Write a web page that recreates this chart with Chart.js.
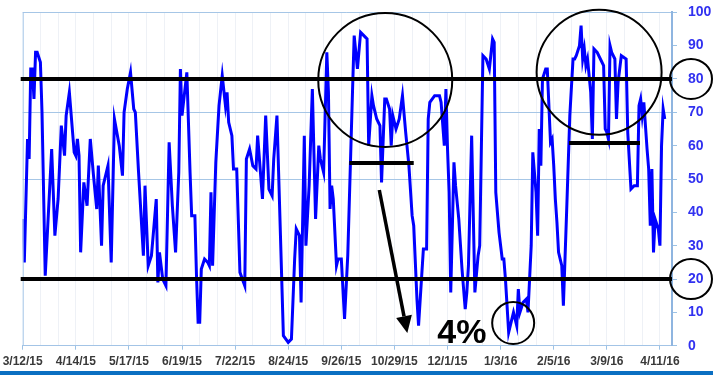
<!DOCTYPE html>
<html><head><meta charset="utf-8">
<script src="https://cdn.jsdelivr.net/npm/chart.js@4.4.1/dist/chart.umd.min.js"></script>
<style>
html,body{margin:0;padding:0;background:#fff;}
#wrap{position:relative;width:713px;height:375px;overflow:hidden;}
#bar{position:absolute;left:0;bottom:0;width:713px;height:4px;background:#0a6fc2;}
</style></head><body>
<div id="wrap"><canvas id="c" width="713" height="375"></canvas><div id="bar"></div></div>
<script>
// Days since 3/12/15
const dayOffsets = [0,1,3,4,5,6,7,8,9,11,12,14,18,20,22,24,26,27,29,32,33,34,35,36,38,40,42,44,46,47,49,50,53,55,57,60,62,63,65,67,69,70,72,75,76,78,80,83,84,85,87,89,91,93,95,97,98,99,102,104,105,107,108,109,110,111,113,115,116,117,118,120,122,124,126,127,128,130,131,133,135,138,139,141,143,145,146,149,151,153,155,156,158,162,165,167,169,170,172,173,175,176,178,180,182,184,185,187,189,190,191,192,193,195,196,198,200,202,205,206,208,210,212,214,215,217,218,220,222,223,225,226,228,229,230,232,234,236,238,240,242,243,245,246,249,251,252,253,256,257,259,260,262,263,264,265,266,268,269,271,273,275,276,277,279,281,283,284,286,288,290,292,293,294,296,298,299,300,302,305,307,308,309,311,313,314,316,317,319,320,321,322,323,325,326,328,329,330,331,332,333,335,336,338,340,342,343,344,346,347,348,349,350,351,353,354,355,357,359,361,362,363,364,365,366,368,369,370,372,375,376,378,380,382,383,384,385,386,388,389,390,391,392,393,395,396,397,398,399];
const oscillator = [38,25,62,56,83,83,74,88,88,85,70,21,59,33,44,66,57,69,76,58,57,62,57,28,49,42,62,51,41,54,30,48,54,25,68,60,51,70,77,82,71,70,52,27,48,24,27,44,19,28,20,18,61,42,28,52,83,69,82,52,39,39,21,7,7,23,26,25,24,46,24,55,72,81,72,76,67,63,53,53,22,18,56,59,54,53,63,44,69,47,45,56,69,3,1,2,26,35,33,13,63,30,48,77,38,60,56,52,88,76,41,48,44,24,26,26,8,27,77,93,83,94,93,92,60,75,72,68,66,49,74,74,71,60,69,65,68,75,64,54,39,36,14,6,29,29,68,73,75,75,75,73,60,77,59,46,16,55,48,38,23,11,16,24,63,16,27,30,87,86,83,92,91,46,34,26,26,20,4,10,6,17,10,13,14,10,30,58,46,33,65,54,80,83,83,61,62,54,44,37,28,24,12,40,69,86,86,87,90,96,86,89,84,86,76,62,89,88,86,84,65,64,62,90,88,86,68,79,87,86,64,47,48,48,72,74,69,73,59,53,36,53,28,38,35,30,60,71,68];
const tickLabels = ['3/12/15','4/14/15','5/17/15','6/19/15','7/22/15','8/24/15','9/26/15','10/29/15','12/1/15','1/3/16','2/5/16','3/9/16','4/11/16'];
const tickStepDays = 33;
const axisMaxDay = 403.5;
const gridValues = [50,70,100];
const levelLines = [80,20];
const shortLines = [{from:203,to:243,value:54.8},{from:339.5,to:383.6,value:60.8}];
const bigCircles = [{day:225.3,value:79.7,r:67},{day:358.2,value:82,r:62.5},{day:304.8,value:6.8,r:21}];
const arrowFrom = {day:221.6,value:46.7};
const arrowTo = {day:239,value:3.8};
const calloutText = {text:'4%',day:257.6,value:0.7};

const annot = {
  id:'annot',
  afterDatasetsDraw(chart){
    const ctx=chart.ctx, xs=chart.scales.x, ys=chart.scales.y, ca=chart.chartArea;
    ctx.save();
    ctx.strokeStyle='#a3c4e6'; ctx.lineWidth=1;
    ctx.beginPath(); ctx.moveTo(ca.left+0.5,ca.top); ctx.lineTo(ca.left+0.5,ca.bottom); ctx.stroke();
    ctx.strokeStyle='#000';
    ctx.lineWidth=4;
    levelLines.forEach(v=>{const y=ys.getPixelForValue(v);ctx.beginPath();ctx.moveTo(ca.left-2,y);ctx.lineTo(ca.right,y);ctx.stroke();});
    shortLines.forEach(s=>{const y=ys.getPixelForValue(s.value);ctx.beginPath();ctx.moveTo(xs.getPixelForValue(s.from),y);ctx.lineTo(xs.getPixelForValue(s.to),y);ctx.stroke();});
    ctx.lineWidth=2;
    bigCircles.forEach(c=>{ctx.beginPath();ctx.arc(xs.getPixelForValue(c.day),ys.getPixelForValue(c.value),c.r,0,Math.PI*2);ctx.stroke();});
    levelLines.forEach(v=>{ctx.beginPath();ctx.ellipse(ca.right+19,ys.getPixelForValue(v),21,20,0,0,Math.PI*2);ctx.stroke();});
    const x1=xs.getPixelForValue(arrowFrom.day), y1=ys.getPixelForValue(arrowFrom.value);
    const x2=xs.getPixelForValue(arrowTo.day), y2=ys.getPixelForValue(arrowTo.value);
    const ang=Math.atan2(y2-y1,x2-x1), hl=17, hw=8;
    const bx=x2-hl*Math.cos(ang), by=y2-hl*Math.sin(ang);
    ctx.lineWidth=3.5;
    ctx.beginPath();ctx.moveTo(x1,y1);ctx.lineTo(bx,by);ctx.stroke();
    ctx.fillStyle='#000';
    ctx.beginPath();ctx.moveTo(x2,y2);
    ctx.lineTo(bx+hw*Math.sin(ang),by-hw*Math.cos(ang));
    ctx.lineTo(bx-hw*Math.sin(ang),by+hw*Math.cos(ang));
    ctx.closePath();ctx.fill();
    ctx.font='bold 34px "Liberation Sans", Arial, sans-serif';
    ctx.textAlign='left';ctx.textBaseline='alphabetic';
    ctx.fillText(calloutText.text,xs.getPixelForValue(calloutText.day),ys.getPixelForValue(calloutText.value));
    ctx.restore();
  }
};

new Chart(document.getElementById('c'),{
  type:'line',
  data:{datasets:[{data:dayOffsets.map((d,i)=>({x:d,y:oscillator[i]})),borderColor:'#0000ff',borderWidth:3,pointRadius:0,tension:0,fill:false}]},
  options:{
    responsive:false,animation:false,devicePixelRatio:1,
    layout:{padding:{left:22.7,top:12.3,right:0,bottom:0}},
    plugins:{legend:{display:false},tooltip:{enabled:false}},
    scales:{
      x:{type:'linear',position:'bottom',min:0,max:axisMaxDay,
        afterFit(s){s.height=29.3;s.paddingLeft=0;s.paddingRight=0;},
        ticks:{stepSize:tickStepDays/3,includeBounds:false,autoSkip:false,maxRotation:0,padding:5,color:'#3a3a3a',
          font:{family:'"Liberation Sans", Arial, sans-serif',size:12,weight:'bold'},
          callback:(v)=>{ if(v%tickStepDays!==0) return ''; return tickLabels[v/tickStepDays]||''; }},
        grid:{drawOnChartArea:true,tickLength:4,
          color:(c)=>{const v=c.tick&&c.tick.value; if(v===0) return 'rgba(0,0,0,0)'; return '#eef1f6';},
          tickColor:(c)=>{const v=c.tick&&c.tick.value; return (v%tickStepDays===0)?'#9cc2e5':'rgba(0,0,0,0)';}},
        border:{display:true,color:'#a3c4e6',width:1}},
      y:{type:'linear',position:'right',min:0,max:100,
        afterFit(s){s.width=41;s.paddingTop=0;s.paddingBottom=0;},
        ticks:{stepSize:10,padding:11,color:'#3131f0',font:{family:'"Liberation Sans", Arial, sans-serif',size:14,weight:'bold'}},
        grid:{tickLength:5,color:(c)=>gridValues.includes(c.tick&&c.tick.value)?'#a6c6e6':'rgba(0,0,0,0)',tickColor:'#9cc2e5'},
        border:{display:true,color:'#8fb5e0',width:2}}
    }
  },
  plugins:[annot]
});
</script>
</body></html>
